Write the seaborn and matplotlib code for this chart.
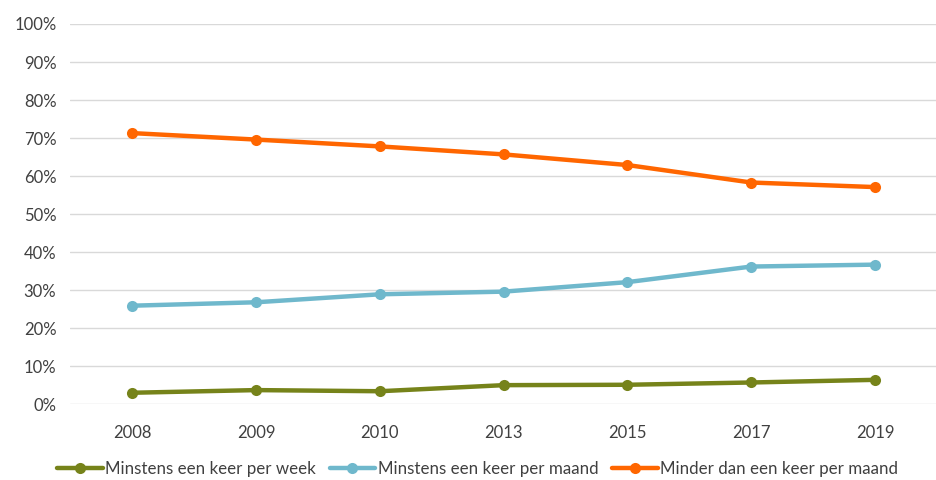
import matplotlib
matplotlib.use("Agg")
import matplotlib.pyplot as plt
import seaborn as sns
import pandas as pd
from matplotlib.ticker import FuncFormatter

years = ["2008", "2009", "2010", "2013", "2015", "2017", "2019"]
week = [3.0, 3.7, 3.4, 5.0, 5.1, 5.7, 6.4]
month = [25.9, 26.8, 28.9, 29.6, 32.1, 36.2, 36.7]
less = [71.3, 69.6, 67.8, 65.7, 62.9, 58.3, 57.1]
series_names = ["Minstens een keer per week", "Minstens een keer per maand",
                "Minder dan een keer per maand"]
colors = ["#76831A", "#6FB8CC", "#FF6600"]

rows = []
for name, vals in zip(series_names, [week, month, less]):
    for y, v in zip(years, vals):
        rows.append({"jaar": y, "waarde": v, "reeks": name})
df = pd.DataFrame(rows)

sns.set_theme(style="white")
plt.rcParams['font.family'] = ['Lato', 'DejaVu Sans']

fig = plt.figure(figsize=(9.37, 4.8), dpi=100)
ax = fig.add_axes([0.075, 0.158, 0.925, 0.792])

sns.lineplot(data=df, x="jaar", y="waarde", hue="reeks", hue_order=series_names,
             palette=colors, marker="o", markersize=8, markeredgewidth=0,
             linewidth=3.2, sort=False, ax=ax)

ax.set_ylim(0, 100)
ax.set_xlim(-0.5, len(years) - 0.5)
ax.set_yticks(range(0, 101, 10))
ax.yaxis.set_major_formatter(FuncFormatter(lambda v, p: f"{int(v)}%"))
ax.grid(axis="y", color="#D9D9D9", linewidth=1)
ax.set_axisbelow(True)
for s in ax.spines.values():
    s.set_visible(False)
ax.set_xlabel("")
ax.set_ylabel("")
ax.tick_params(axis="both", length=0, labelsize=12, labelcolor="#404040")
ax.tick_params(axis="x", pad=15)
ax.tick_params(axis="y", pad=10)

handles, labels = ax.get_legend_handles_labels()
ax.legend(handles, labels, loc="upper center", bbox_to_anchor=(0.47, -0.11),
          ncol=3, frameon=False, fontsize=12.2, handlelength=2.7,
          handletextpad=0.15, columnspacing=0.8, labelcolor="#404040")

fig.savefig("out.png", dpi=100)
